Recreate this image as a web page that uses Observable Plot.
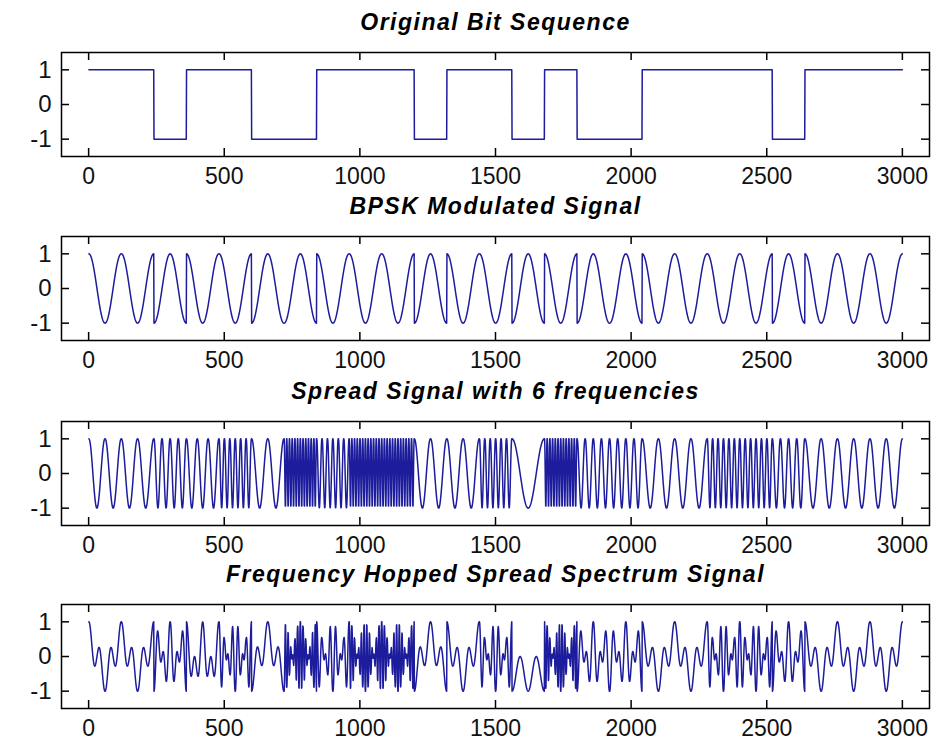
<!DOCTYPE html>
<html><head><meta charset="utf-8">
<script src="https://cdn.jsdelivr.net/npm/d3@7"></script>
<script src="https://cdn.jsdelivr.net/npm/@observablehq/plot@0.6"></script>
<style>
body{margin:0;background:#fff;}
#chart{position:relative;width:940px;height:741px;background:#fff;overflow:hidden;}
#chart > svg{position:absolute;left:0;}
</style></head><body><div id="chart"></div>
<script>
// ---- data ----
const titles = ["Original Bit Sequence", "BPSK Modulated Signal", "Spread Signal with 6 frequencies", "Frequency Hopped Spread Spectrum Signal"];
// 25 bits, +1 / -1
const bits = [1, 1, -1, 1, 1, -1, -1, 1, 1, 1, -1, 1, 1, -1, 1, -1, -1, 1, 1, 1, 1, -1, 1, 1, 1];
// carrier cycles per bit used by the spread signal for each bit (one of 1,2,3,4,6,12)
const hopCycles = [2, 2, 4, 3, 6, 2, 12, 6, 12, 12, 2, 2, 6, 1, 12, 4, 4, 2, 2, 6, 6, 4, 2, 2, 2];
const samplesPerBit = 120;
const xTicks = [0, 500, 1000, 1500, 2000, 2500, 3000];
const yTicks = [-1, 0, 1];
const xDomain = [-100, 3100];
const yDomain = [-1.5, 1.5];
const seriesKeys = ["signal", "bpsk", "spread", "fh"];

// ---- build sample table ----
const rows = [];
let n = 1;
bits.forEach((b, k) => {
  const period = samplesPerBit / hopCycles[k];
  for (let i = 0; i < samplesPerBit; i++) {
    const carrier = Math.cos(2 * Math.PI * i / (samplesPerBit - 1));
    const j = i % period;
    const spread = Math.cos(2 * Math.PI * j / (period - 1));
    const bpsk = b * carrier;
    rows.push({n, signal: b, bpsk, spread, fh: bpsk * spread});
    n++;
  }
});

// ---- layout ----
const W = 940, mL = 61, mR = 11, boxH = 104;
const boxTops = [52, 236, 421, 604];
const mT = 45, mB = 37;
const plotW = W - mL - mR;
const tickLen = 8;
const lineColor = "#1c1c9c";
const font = "'Liberation Sans', Arial, sans-serif";

const chart = document.getElementById("chart");
seriesKeys.forEach((key, idx) => {
  const svg = Plot.plot({
    width: W,
    height: mT + boxH + mB,
    marginLeft: mL, marginRight: mR, marginTop: mT, marginBottom: mB,
    style: {background: "none", overflow: "visible", fontFamily: font},
    x: {domain: xDomain},
    y: {domain: yDomain},
    marks: [
      Plot.line(rows, {x: "n", y: key, stroke: lineColor, strokeWidth: 1.5, curve: "linear"}),
      Plot.frame({stroke: "#000", strokeWidth: 1.5}),
      Plot.tickX(xTicks, {x: d => d, insetTop: boxH - tickLen, stroke: "#000", strokeWidth: 1.5}),
      Plot.tickX(xTicks, {x: d => d, insetBottom: boxH - tickLen, stroke: "#000", strokeWidth: 1.5}),
      Plot.tickY(yTicks, {y: d => d, insetRight: plotW - tickLen, stroke: "#000", strokeWidth: 1.5}),
      Plot.tickY(yTicks, {y: d => d, insetLeft: plotW - tickLen, stroke: "#000", strokeWidth: 1.5}),
      Plot.axisX(xTicks, {tickSize: 0, tickPadding: 11, fontSize: 23, fill: "#111", label: null, tickFormat: d => String(d)}),
      Plot.axisY(yTicks, {tickSize: 0, tickPadding: 10, fontSize: 24, fill: "#111", label: null, tickFormat: d => String(d)}),
      Plot.text([titles[idx]], {frameAnchor: "top", dy: -23, lineAnchor: "bottom", text: d => d,
        fontSize: 23, fontWeight: "bold", fontStyle: "italic", fill: "#000", className: "ptitle"})
    ]
  });
  svg.querySelectorAll(".ptitle text").forEach(t => t.setAttribute("letter-spacing", "1.5"));
  svg.style.top = (boxTops[idx] - mT) + "px";
  chart.appendChild(svg);
});
</script></body></html>
